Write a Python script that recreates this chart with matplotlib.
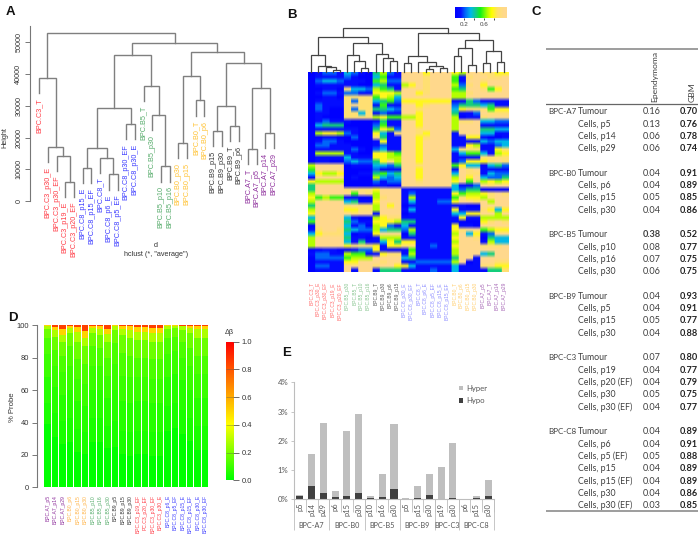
import matplotlib
matplotlib.use("Agg")
import matplotlib.pyplot as plt
import numpy as np
from matplotlib.colors import LinearSegmentedColormap

W, H = 700, 536
plt.rcParams["font.family"] = ["Liberation Sans", "DejaVu Sans"]

# A: dendrogram
RED, BLUE, GREEN, ORANGE, DARK, PURPLE = "#ff3c46", "#3c3cff", "#55ab6a", "#ffc233", "#333333", "#8e2f9c"
a_labels = ["BPC.C3_T", "BPC.C3_p30_E", "BPC.C3_p30_EF", "BPC.C3_p19_E", "BPC.C3_p20_EF",
            "BPC.C8_p15_E", "BPC.C8_p15_EF", "BPC.C8_T", "BPC.C8_p6_E", "BPC.C8_p5_EF", "BPC.C8_p30_EF", "BPC.C8_p30_E",
            "BPC.B5_T", "BPC.B5_p30", "BPC.B5_p10", "BPC.B5_p16",
            "BPC.B0_p30", "BPC.B0_p15", "BPC.B0_T", "BPC.B0_p6",
            "BPC.B9_p15", "BPC.B9_p30", "BPC.B9_T", "BPC.B9_p6",
            "BPC.A7_T", "BPC.A7_p5", "BPC.A7_p14", "BPC.A7_p29"]
a_colors = [RED] * 5 + [BLUE] * 7 + [GREEN] * 4 + [ORANGE] * 4 + [DARK] * 4 + [PURPLE] * 4
a_c3 = (38600, 0, (17000, 1, (14300, 2, (6160, 3, 4))))
a_c8 = (29100, (16600, (10500, 5, 6), (13700, 7, (8450, 8, 9))), (24300, 10, 11))
a_b5 = (36200, 12, (27200, 13, (11000, 14, 15)))
a_b0 = (39400, (18400, 16, 17), (31600, 18, 19))
a_b9 = (30000, (22100, 20, 21), (23700, 22, 23))
a_a7 = (35400, (16500, 24, 25), (21500, 26, 27))
a_tree = (52900, a_c3, (49500, (46000, a_c8, a_b5), (46900, a_b0, (43400, a_b9, a_a7))))

# B: heatmap
b_labels = ["BPC.C3_T", "BPC.C3_p30_E", "BPC.C3_p30_EF", "BPC.C3_p19_E", "BPC.C3_p20_EF",
            "BPC.B5_p30", "BPC.B5_T", "BPC.B5_p10", "BPC.B5_p16",
            "BPC.B9_T", "BPC.B9_p30", "BPC.B9_p6", "BPC.B9_p15",
            "BPC.C8_p30_E", "BPC.C8_p30_EF", "BPC.C8_T", "BPC.C8_p6_E", "BPC.C8_p5_EF", "BPC.C8_p15_E", "BPC.C8_p15_EF",
            "BPC.B0_T", "BPC.B0_p6", "BPC.B0_p15", "BPC.B0_p30",
            "BPC.A7_p5", "BPC.A7_T", "BPC.A7_p14", "BPC.A7_p29"]
b_colors = ["#ff6a6a"] * 5 + ["#86c48e"] * 4 + ["#555555"] * 4 + ["#8c8cff"] * 7 + ["#ffce6e"] * 4 + ["#a565b5"] * 4
b_left = (103, (49, 0, (17, 1, (13, 2, (6, 3, 4)))),
          (87, (49, 5, (33, 6, (12, 7, 8))), (52, 9, (40, 10, (31, 11, 12)))))
b_right = (117, (47, (25, 13, 14), (30, 15, (18, (7, 16, 17), (10, 18, 19)))),
           (96, (72, (47, 20, 21), (21, 22, 23)), (63, (25, 24, 25), (28, 26, 27))))
b_tree = (130, b_left, b_right)
# beta values, one digit per cell, 0 = 0.0 ... 9 = 1.0
b_rows = [
    "0 1221 3210 4621 9997999 7699 8877",
    "0 1111 2100 3511 9998999 5189 9889",
    "0 2332 1110 5622 9998999 5199 8999",
    "0 1111 1100 3411 6798999 6289 7999",
    "0 0110 8332 6541 9998999 5499 8579",
    "0 1221 2211 7776 9978999 6689 9999",
    "0 0110 8888 5763 9999999 6699 9999",
    "0 1111 8288 3452 7777777 1142 1111",
    "0 2111 8988 1511 9978999 2444 3411",
    "0 2100 8288 4432 9989999 3788 8577",
    "0 1100 8838 1211 9979999 4112 9888",
    "0 1000 8888 6755 6679999 6011 8999",
    "0 1211 1000 1411 9979999 6889 3322",
    "0 3444 0000 2511 9979999 6999 1111",
    "0 1111 1100 4762 9989999 6999 4433",
    "0 6776 2100 7318 9987999 1999 3311",
    "0 0110 0200 8411 9978999 1177 1001",
    "0 1221 0000 1711 9979999 1111 3233",
    "0 2211 1000 1211 9979999 1176 1123",
    "0 1111 1210 2311 9979999 3888 1178",
    "0 6666 1100 7765 9979999 1355 3167",
    "0 1111 3111 7766 9979999 1111 8888",
    "0 1100 2322 4786 9979999 1277 7898",
    "6 9999 0111 3324 9989999 5733 1342",
    "5 9999 0000 2111 9979999 1989 1111",
    "3 7667 0011 4534 9979999 3988 1322",
    "1 9999 0100 6323 9979999 6979 3224",
    "7 6666 0000 2122 9989999 7959 6767",
    "4 9999 0000 1100 9999999 3112 9899",
    "4 9999 8988 7999 1111111 3244 0000",
    "6 9999 9598 6999 1211111 7566 7898",
    "7 5655 1100 6899 1611111 5877 6899",
    "6 9999 3411 7999 1311122 7998 9699",
    "4 9999 8988 6979 0111111 1100 9999",
    "6 9999 7788 6999 1311111 7111 8737",
    "7 9999 9899 1999 0111111 3377 9969",
    "3 9999 3100 6788 1111111 1711 6666",
    "5 9999 4211 7776 4411111 1000 7898",
    "0 9999 3120 6721 3111111 7110 9999",
    "1 8998 4322 6344 2611111 7899 5677",
    "3 7888 3011 7999 0411111 6937 1299",
    "6 9999 4110 1666 1111111 7998 0433",
    "6 9999 3141 1374 7711111 6999 1633",
    "6 9999 7888 7177 8811211 7999 8889",
    "0 0110 0122 7100 1511111 6999 9999",
    "1 2211 6551 1788 1611111 6999 3499",
    "0 2222 5666 9999 3411111 4991 9999",
    "0 1111 7799 9899 1122222 6901 9988",
    "0 2211 9999 8997 7311111 3111 8877",
    "0 1111 9199 1444 1111211 3111 1448",
]

# C: table
c_group = ["BPC-A7", "", "", "", None, "BPC-B0", "", "", "", None, "BPC-B5", "", "", "", None,
           "BPC-B9", "", "", "", None, "BPC-C3", "", "", "", "", None, "BPC-C8", "", "", "", "", "", ""]
c_sample = ["Tumour", "Cells, p5", "Cells, p14", "Cells, p29", None,
            "Tumour", "Cells, p6", "Cells, p15", "Cells, p30", None,
            "Tumour", "Cells, p10", "Cells, p16", "Cells, p30", None,
            "Tumour", "Cells, p5", "Cells, p15", "Cells, p30", None,
            "Tumour", "Cells, p19", "Cells, p20 (EF)", "Cells, p30", "Cells, p30 (EF)", None,
            "Tumour", "Cells, p6", "Cells, p5 (EF)", "Cells, p15", "Cells, p15 (EF)", "Cells, p30", "Cells, p30 (EF)"]
c_epend = [0.16, 0.13, 0.06, 0.06, None, 0.04, 0.04, 0.05, 0.04, None, 0.38, 0.08, 0.07, 0.06, None,
           0.04, 0.04, 0.05, 0.04, None, 0.07, 0.04, 0.04, 0.05, 0.04, None,
           0.04, 0.04, 0.05, 0.04, 0.04, 0.04, 0.03]
c_gbm = [0.70, 0.76, 0.78, 0.74, None, 0.91, 0.89, 0.85, 0.86, None, 0.52, 0.77, 0.75, 0.75, None,
         0.93, 0.91, 0.77, 0.88, None, 0.80, 0.77, 0.79, 0.75, 0.77, None,
         0.89, 0.91, 0.88, 0.89, 0.89, 0.86, 0.85]

# D: stacked bars, cumulative % of probes up to each delta-beta class
d_labels = ["BPC.A7_p5", "BPC.A7_p14", "BPC.A7_p29", "BPC.B0_p6", "BPC.B0_p15", "BPC.B0_p30",
            "BPC.B5_p10", "BPC.B5_p16", "BPC.B5_p30", "BPC.B9_p5", "BPC.B9_p15", "BPC.B9_p30",
            "BPC.C3_p19_EF", "PC.C3_p20_EF", "BPC.C3_p30_EF", "BPC.C3_p30_E",
            "BPC.C8_p6_E", "BPC.C8_p5_EF", "BPC.C8_p15_E", "BPC.C8_p15_EF", "BPC.C8_p30_E", "BPC.C8_p30_EF"]
d_colors = [PURPLE] * 3 + ["#ffb347"] * 3 + [GREEN] * 3 + [DARK] * 3 + [RED] * 4 + [BLUE] * 6
d_classes = [0.0, 0.04, 0.06, 0.09, 0.12, 0.17, 0.27, 0.5, 0.85]
d_c0 = [39, 31, 27, 28, 21.5, 20.5, 28, 28, 24, 25, 20.5, 19.5, 20.5, 20.5, 19.5, 19.5, 34.5, 36.5, 33, 28.5, 23, 23]
d_c1 = [52, 46, 41, 43, 36, 34, 43, 43, 38, 41, 35, 34, 35, 35, 34, 34, 50, 52, 48, 43, 38, 38]
d_c2 = [68, 62, 57, 60, 53, 50, 60, 60, 55, 60, 53, 52, 53, 53, 52, 52, 68, 70, 66, 60, 55, 55]
d_c3 = [82, 75, 71, 75, 67, 64, 75, 75, 69, 76, 69, 68, 68, 68, 67, 67, 82, 84, 80, 75, 70, 70]
d_c4 = [92, 85, 81, 87, 79, 76, 87, 86, 80, 89, 83, 81, 80, 80, 79, 79, 92, 93, 90, 86, 81, 81]
d_c5 = [98, 93, 90, 95, 90, 87, 95, 94, 90, 97, 94, 92, 91, 91, 90, 90, 98, 98.5, 97, 95, 92, 92]
d_c6 = [99.6, 97, 94, 98.5, 96, 92, 98.5, 98, 94.5, 99.7, 98, 97, 96, 96, 95.5, 95.5, 99.6, 99.7, 99.3, 98.5, 97.5, 97.5]
d_c7 = [100, 99, 97.5, 99.7, 99, 96.5, 99.7, 99.5, 97.5, 100, 99.6, 99.3, 98.8, 98.8, 98.5, 98.5, 100, 100, 99.8, 99.6, 99.3, 99.3]
d_c8 = [100] * 22

# E: hyper / hypo bars
e_groups = ["BPC-A7", "BPC-B0", "BPC-B5", "BPC-B9", "BPC-C3", "BPC-C8"]
e_group_sizes = [3, 3, 3, 3, 2, 3]
e_passages = ["p5", "p14", "p29", "p6", "p15", "p30", "p10", "p16", "p30", "p5", "p15", "p30", "p19", "p30", "p6", "p15", "p30"]
e_hypo = [0.12, 0.46, 0.20, 0.07, 0.12, 0.20, 0.05, 0.07, 0.35, 0.00, 0.04, 0.16, 0.02, 0.04, 0.00, 0.04, 0.12]
e_hyper = [0.01, 1.08, 2.40, 0.21, 2.20, 2.70, 0.05, 0.79, 2.23, 0.03, 0.41, 0.69, 1.08, 1.89, 0.01, 0.06, 0.55]


def box(x0, y0, x1, y1):
    # axes from pixel corners of the 700x536 image
    return fig.add_axes([x0 / W, 1 - y1 / H, (x1 - x0) / W, (y1 - y0) / H])


def draw_tree(ax, node, color, lw, hang=None, leaf_x=None):
    # nodes are (height, left, right), leaves are ints
    if isinstance(node, int):
        return leaf_x(node), None
    h, left, right = node
    pts = []
    for child in (left, right):
        x, y = draw_tree(ax, child, color, lw, hang, leaf_x)
        if y is None:
            y = h - hang if hang else 0
            leaf_ends[child] = y
        pts.append((x, y))
    (xl, yl), (xr, yr) = pts
    ax.plot([xl, xl, xr, xr], [yl, h, h, yr], color=color, lw=lw, solid_joinstyle="miter", clip_on=False)
    return (xl + xr) / 2, h


fig = plt.figure(figsize=(W / 100, H / 100), dpi=100)

# panel A
ax = box(30, 20, 280, 201.3)
ax.set_xlim(-1.07, 27.7)
ax.set_ylim(0, 181.3 / 31.9 * 10000)
leaf_ends = {}
draw_tree(ax, a_tree, "#7f7f7f", 1.0, hang=4800, leaf_x=lambda i: i)
for i, name in enumerate(a_labels):
    ax.text(i, leaf_ends[i] - 1500, name, rotation=90, ha="center", va="top", fontsize=5.2, color=a_colors[i])
for s in ["top", "right", "bottom"]:
    ax.spines[s].set_visible(False)
ax.spines["left"].set_bounds(0, 55000)
ax.spines["left"].set_color("#777777")
ax.set_xticks([])
ax.set_yticks(np.arange(0, 60000, 10000))
ax.tick_params(axis="y", length=3.5, width=0.7, color="#777777", labelsize=5.2, labelcolor="#333333", pad=2)
plt.setp(ax.get_yticklabels(), rotation=90, va="center")
fig.text(5 / W, 1 - 138 / H, "Height", rotation=90, fontsize=5.2, color="#333333", va="center", ha="center")
fig.text(156 / W, 1 - 246 / H, "d", fontsize=5.2, color="#333333", va="center", ha="center")
fig.text(156 / W, 1 - 254 / H, 'hclust (*, "average")', fontsize=5.2, color="#333333", va="center", ha="center")

# panel B
heat_cmap = LinearSegmentedColormap.from_list("heat", [
    (0.0, (0, 0, 1)), (0.13, (0.02, 0.06, 1)), (0.22, (0, 0.4, 0.98)), (0.33, (0, 0.72, 0.92)),
    (0.44, (0.08, 0.8, 0.5)), (0.52, (0.05, 0.95, 0.1)), (0.67, (0.72, 1, 0)), (0.75, (1, 1, 0)),
    (0.87, (1, 0.88, 0.43)), (1.0, (1, 0.85, 0.55))])
heat = np.array([[int(c) for c in r.replace(" ", "")] for r in b_rows]) / 9
ax = box(307.7, 72, 507.7, 272.5)
# columns repeated so the bilinear smoothing only softens the rows
ax.imshow(np.repeat(heat, 7, axis=1), cmap=heat_cmap, vmin=0, vmax=1, aspect="auto", interpolation="bilinear",
          extent=[0, 28, len(b_rows), 0])
ax.axis("off")
for i, name in enumerate(b_labels):
    ax.text(i + 0.5, len(b_rows) + 2.4, name, rotation=90, ha="center", va="top", fontsize=3.5, color=b_colors[i])
ax = box(307.7, 26, 507.7, 71.5)
ax.set_xlim(0, 28)
ax.set_ylim(0, 136.5)
leaf_ends = {}
draw_tree(ax, b_tree, "#444444", 0.9, leaf_x=lambda i: i + 0.5)
ax.axis("off")

ax = box(455, 7, 507, 18)
ramp = np.linspace(0.02, 1.05, 200)[None, :]
ax.imshow(np.clip(ramp, 0, 1), cmap=heat_cmap, vmin=0, vmax=1, aspect="auto", extent=[0.02, 1.05, 0, 1])
ax.set_yticks([])
ax.set_xticks([0.2, 0.4, 0.6, 0.8])
ax.set_xticklabels(["0.2", "", "0.6", ""])
ax.tick_params(axis="x", length=1.5, width=0.5, labelsize=4.5, labelcolor="#444444", pad=1.5)
for s in ax.spines.values():
    s.set_visible(False)

# panel C
ax = box(546, 40, 698, 520)
ax.set_xlim(546, 698)
ax.set_ylim(520, 40)
ax.axis("off")
ax.plot([546, 698], [48.7, 48.7], color="#8c8c8c", lw=1.2)
ax.plot([546, 698], [104.3, 104.3], color="#666666", lw=0.9)
ax.plot([546, 698], [510.8, 510.8], color="#8c8c8c", lw=1.2)
TXT = "#3f3f3f"
ax.text(654.5, 101.5, "Ependymoma", rotation=90, ha="center", va="bottom", fontsize=6.1, color=TXT, family="Lato")
ax.text(692, 101.5, "GBM", rotation=90, ha="center", va="bottom", fontsize=6.1, color=TXT, family="Lato")
for i in range(len(c_sample)):
    if c_sample[i] is None:
        continue
    y = 111.7 + i * 12.31
    ax.text(548, y, c_group[i], ha="left", va="center", fontsize=5.8, color=TXT, family="Lato")
    ax.text(578, y, c_sample[i], ha="left", va="center", fontsize=6.3, color=TXT, family="Lato")
    ax.text(651.5, y, f"{c_epend[i]:.2f}", ha="center", va="center", fontsize=6.6, color=TXT, family="Lato",
            weight="bold" if c_epend[i] > 0.3 else "normal")
    ax.text(689, y, f"{c_gbm[i]:.2f}", ha="center", va="center", fontsize=6.6, color="#222222", family="Lato", weight="bold")

# panel D
delta_cmap = LinearSegmentedColormap.from_list("delta", [(0, (0, 1, 0)), (0.4, (1, 1, 0)), (1, (1, 0, 0))])
ax = box(36.7, 325.3, 210, 487.3)
cum = np.array([d_c0, d_c1, d_c2, d_c3, d_c4, d_c5, d_c6, d_c7, d_c8], dtype=float)
xs = np.arange(22)
bottom = np.zeros(22)
for k in range(len(cum)):
    ax.bar(xs, cum[k] - bottom, bottom=bottom, width=0.87, color=delta_cmap(d_classes[k]), lw=0)
    bottom = cum[k]
ax.set_xlim(-1.467, 21.64)
ax.set_ylim(0, 100)
for s in ["top", "right", "bottom"]:
    ax.spines[s].set_visible(False)
ax.spines["left"].set_color("#777777")
ax.set_xticks([])
ax.set_yticks([0, 20, 40, 60, 80, 100])
ax.tick_params(axis="y", length=3.5, width=0.7, color="#777777", labelsize=5.4, labelcolor="#333333", pad=2)
for i, name in enumerate(d_labels):
    ax.text(i, -4.8, name, rotation=90, ha="center", va="top", fontsize=3.6, color=d_colors[i])
fig.text(12.7 / W, 1 - 407 / H, "% Probe", rotation=90, fontsize=5.6, color="#333333", va="center", ha="center")

ax = box(226, 341.7, 233.3, 480.3)
ax.imshow(np.linspace(1, 0, 200)[:, None], cmap=delta_cmap, vmin=0, vmax=1, aspect="auto", extent=[0, 1, 0, 1])
ax.set_xticks([])
ax.yaxis.tick_right()
ax.set_yticks([0, 0.2, 0.4, 0.6, 0.8, 1.0])
ax.tick_params(axis="y", length=4, width=0.6, color="#555555", labelsize=5.4, labelcolor="#333333", pad=2)
ax.hlines([0.2, 0.4, 0.6, 0.8], 0, 1, color="#555555", lw=0.5, alpha=0.5)
for s in ax.spines.values():
    s.set_visible(False)
fig.text(229.7 / W, 1 - 333 / H, "\u0394\u03b2", fontsize=5.2, color="#333333", va="center", ha="center")

# panel E
ax = box(294, 382.3, 494, 499.3)
xs = np.arange(len(e_passages))
ax.bar(xs, e_hypo, width=0.6, color="#404040", label="Hypo")
ax.bar(xs, e_hyper, bottom=e_hypo, width=0.6, color="#bfbfbf", label="Hyper")
ax.set_xlim(-0.5, len(e_passages) - 0.5)
ax.set_ylim(0, 4)
for s in ["top", "right"]:
    ax.spines[s].set_visible(False)
for s in ["left", "bottom"]:
    ax.spines[s].set_color("#bdbdbd")
ax.set_yticks([0, 1, 2, 3, 4])
ax.set_yticklabels(["0%", "1%", "2%", "3%", "4%"])
ax.set_xticks(xs)
ax.set_xticklabels(e_passages, rotation=90, family="Lato")
ax.tick_params(axis="y", length=2, width=0.6, color="#bdbdbd", labelsize=5.6, labelcolor="#555555", pad=2)
ax.tick_params(axis="x", length=0, labelsize=5.4, labelcolor="#555555", pad=2.5)
for lab in ax.get_yticklabels():
    lab.set_family("Lato")
trans = ax.get_xaxis_transform()
ends = np.cumsum(e_group_sizes)
ax.vlines(np.arange(len(e_passages) + 1) - 0.5, -13 / 117, 0, transform=trans, color="#bdbdbd", lw=0.6, clip_on=False)
ax.vlines(np.concatenate(([0], ends)) - 0.5, -31 / 117, 0, transform=trans, color="#bdbdbd", lw=0.6, clip_on=False)
for name, end, size in zip(e_groups, ends, e_group_sizes):
    ax.text(end - size / 2 - 0.5, -26.4 / 117, name, transform=trans, ha="center", va="center",
            fontsize=5.2, color="#555555", family="Lato")
handles, labels = ax.get_legend_handles_labels()
ax.legend(handles[::-1], labels[::-1], loc="upper left", bbox_to_anchor=(0.825, 0.98), frameon=False,
          labelcolor="#555555", handlelength=0.55, handleheight=0.55, handletextpad=0.4, labelspacing=0.75,
          borderaxespad=0, borderpad=0, prop={"family": "Lato", "size": 5.6})

# panel letters
for letter, px, py in [("A", 10, 12), ("B", 292, 15), ("C", 536, 12), ("D", 13, 318), ("E", 287, 353)]:
    fig.text(px / W, 1 - py / H, letter, fontsize=9.5, weight="bold", ha="center", va="center", color="#111111")

fig.savefig("out.png", dpi=100)
